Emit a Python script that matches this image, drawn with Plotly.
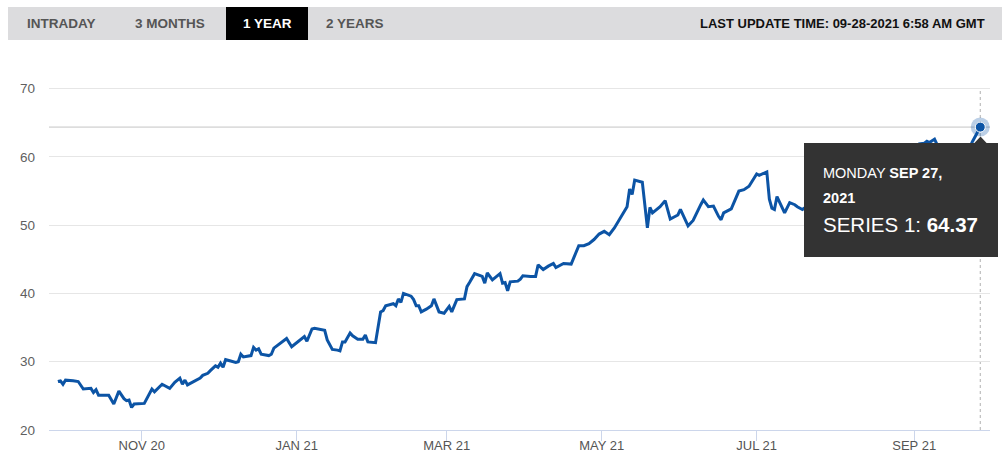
import plotly.graph_objects as go

# ---------------- data ----------------
dates = [
    "2020-09-29", "2020-09-30", "2020-10-01", "2020-10-02", "2020-10-05", "2020-10-06", "2020-10-07",
    "2020-10-09", "2020-10-10", "2020-10-12", "2020-10-13", "2020-10-14", "2020-10-15", "2020-10-17",
    "2020-10-19", "2020-10-21", "2020-10-23", "2020-10-25", "2020-10-26", "2020-10-27", "2020-10-28",
    "2020-10-29", "2020-10-31", "2020-11-02", "2020-11-05", "2020-11-06", "2020-11-09", "2020-11-12",
    "2020-11-14", "2020-11-16", "2020-11-17", "2020-11-18", "2020-11-19", "2020-11-22", "2020-11-24",
    "2020-11-25", "2020-11-27", "2020-11-28", "2020-11-29", "2020-11-30", "2020-12-01", "2020-12-02",
    "2020-12-03", "2020-12-04", "2020-12-06", "2020-12-08", "2020-12-09", "2020-12-10", "2020-12-11",
    "2020-12-14", "2020-12-15", "2020-12-16", "2020-12-17", "2020-12-18", "2020-12-21", "2020-12-22",
    "2020-12-23", "2020-12-25", "2020-12-28", "2020-12-30", "2021-01-01", "2021-01-04", "2021-01-05",
    "2021-01-07", "2021-01-08", "2021-01-10", "2021-01-12", "2021-01-13", "2021-01-15", "2021-01-17",
    "2021-01-18", "2021-01-19", "2021-01-20", "2021-01-22", "2021-01-23", "2021-01-25", "2021-01-27",
    "2021-01-28", "2021-01-29", "2021-02-01", "2021-02-03", "2021-02-04", "2021-02-05", "2021-02-08",
    "2021-02-09", "2021-02-10", "2021-02-11", "2021-02-12", "2021-02-15", "2021-02-16", "2021-02-17",
    "2021-02-18", "2021-02-19", "2021-02-21", "2021-02-23", "2021-02-24", "2021-02-26", "2021-02-28",
    "2021-03-02", "2021-03-03", "2021-03-05", "2021-03-08", "2021-03-09", "2021-03-10", "2021-03-12",
    "2021-03-15", "2021-03-16", "2021-03-17", "2021-03-19", "2021-03-22", "2021-03-23", "2021-03-24",
    "2021-03-25", "2021-03-26", "2021-03-29", "2021-03-30", "2021-03-31", "2021-04-03", "2021-04-05",
    "2021-04-06", "2021-04-08", "2021-04-10", "2021-04-12", "2021-04-13", "2021-04-16", "2021-04-19",
    "2021-04-20", "2021-04-22", "2021-04-24", "2021-04-26", "2021-04-28", "2021-04-30", "2021-05-02",
    "2021-05-04", "2021-05-06", "2021-05-08", "2021-05-11", "2021-05-12", "2021-05-13", "2021-05-14",
    "2021-05-17", "2021-05-19", "2021-05-20", "2021-05-21", "2021-05-24", "2021-05-26", "2021-05-28",
    "2021-05-31", "2021-06-01", "2021-06-04", "2021-06-06", "2021-06-09", "2021-06-10", "2021-06-12",
    "2021-06-14", "2021-06-16", "2021-06-17", "2021-06-18", "2021-06-21", "2021-06-24", "2021-06-26",
    "2021-06-28", "2021-07-01", "2021-07-02", "2021-07-05", "2021-07-06", "2021-07-07", "2021-07-08",
    "2021-07-09", "2021-07-12", "2021-07-14", "2021-07-16", "2021-07-17", "2021-07-19", "2021-07-21",
    "2021-07-23", "2021-07-25", "2021-07-27", "2021-07-29", "2021-08-01", "2021-08-03", "2021-08-05",
    "2021-08-08", "2021-08-10", "2021-08-12", "2021-08-15", "2021-08-17", "2021-08-19", "2021-08-22",
    "2021-08-24", "2021-08-26", "2021-08-29", "2021-08-31", "2021-09-02", "2021-09-03", "2021-09-05",
    "2021-09-06", "2021-09-07", "2021-09-09", "2021-09-10", "2021-09-11", "2021-09-12", "2021-09-14",
    "2021-09-16", "2021-09-18", "2021-09-19", "2021-09-21", "2021-09-23", "2021-09-24", "2021-09-27",
]
values = [
    27.1, 27.2, 26.7, 27.3, 27.2, 27.1, 27.1,
    26.0, 26.0, 26.1, 25.5, 25.9, 25.1, 25.1,
    25.1, 23.8, 25.7, 24.6, 24.3, 24.4, 23.3,
    23.8, 23.9, 23.9, 26.0, 25.6, 26.7, 26.1,
    27.0, 27.6, 26.7, 27.3, 26.6, 27.2, 27.6,
    28.0, 28.3, 28.7, 29.0, 29.4, 29.2, 29.8,
    29.2, 30.3, 30.1, 29.9, 30.0, 31.1, 30.7,
    30.9, 32.1, 31.7, 31.9, 31.1, 30.9, 31.1,
    32.0, 32.6, 33.4, 32.2, 32.8, 33.7, 33.0,
    34.8, 34.9, 34.7, 34.6, 33.2, 31.8, 31.7,
    31.6, 32.9, 32.9, 34.2, 33.8, 33.3, 33.3,
    33.9, 32.9, 32.8, 37.3, 37.5, 38.2, 38.5,
    38.2, 39.2, 38.7, 40.0, 39.6, 39.1, 38.2,
    38.2, 37.3, 37.7, 38.2, 39.2, 37.3, 37.1,
    38.1, 37.3, 39.1, 39.2, 41.0, 41.6, 42.9,
    42.5, 41.5, 43.0, 42.0, 42.9, 41.5, 41.6,
    40.4, 41.7, 41.8, 42.1, 42.6, 42.5, 42.5,
    44.2, 43.5, 44.0, 44.4, 43.8, 44.4, 44.3,
    45.2, 47.0, 47.0, 47.3, 47.9, 48.7, 49.1,
    48.6, 49.6, 50.8, 52.7, 55.3, 54.5, 56.6,
    56.3, 49.6, 52.6, 51.8, 52.7, 53.6, 50.9,
    51.5, 52.3, 49.9, 50.7, 53.0, 53.7, 52.7,
    52.8, 51.3, 50.8, 51.8, 52.4, 55.0, 55.2,
    55.7, 57.5, 57.3, 57.8, 53.8, 52.5, 52.3,
    54.2, 51.8, 53.3, 53.0, 52.7, 52.3, 52.8,
    53.5, 54.6, 54.0, 55.8, 56.5, 57.9, 57.2,
    58.8, 59.5, 58.7, 60.1, 60.8, 60.2, 61.0,
    60.5, 61.3, 60.9, 61.5, 61.3, 61.9, 62.0,
    62.3, 62.1, 62.6, 61.8, 60.5, 59.8, 60.4,
    59.2, 58.6, 59.5, 60.8, 61.5, 62.3, 64.37,
]
x_tick_vals = ["2020-11-01", "2021-01-01", "2021-03-01", "2021-05-01", "2021-07-01", "2021-09-01"]
x_tick_text = ["NOV 20", "JAN 21", "MAR 21", "MAY 21", "JUL 21", "SEP 21"]
y_tick_vals = [20, 30, 40, 50, 60, 70]
tabs = ["INTRADAY", "3 MONTHS", "1 YEAR", "2 YEARS"]
selected_tab = "1 YEAR"
update_text = "LAST UPDATE TIME: 09-28-2021 6:58 AM GMT"
tooltip_day = "MONDAY"
tooltip_date = "SEP 27,"
tooltip_year = "2021"
series_name = "SERIES 1"

# ---------------- layout geometry ----------------
W, H = 1002, 459
ML, MR, MT, MB = 49, 12, 75, 29
PW, PH = W - ML - MR, H - MT - MB


def px(xp):
    return (xp - ML) / PW


def py(yp):
    return (H - MB - yp) / PH


LINE = "#0c54a5"
FONT = "Liberation Sans, Arial, Helvetica, sans-serif"

fig = go.Figure()
fig.add_trace(go.Scatter(x=dates, y=values, mode="lines",
                         line=dict(color=LINE, width=3), hoverinfo="skip"))
# highlighted last point
fig.add_trace(go.Scatter(x=[dates[-1]], y=[values[-1]], mode="markers",
                         marker=dict(size=19, color="rgba(12,84,165,0.28)"), hoverinfo="skip"))
fig.add_trace(go.Scatter(x=[dates[-1]], y=[values[-1]], mode="markers",
                         marker=dict(size=10, color=LINE, line=dict(color="white", width=1)),
                         hoverinfo="skip"))

shapes = []
# crosshairs
shapes.append(dict(type="line", xref="paper", yref="y", x0=0, x1=1, y0=values[-1], y1=values[-1],
                   line=dict(color="#c4c4c4", width=1), layer="below"))
shapes.append(dict(type="line", xref="x", yref="y", x0=dates[-1], x1=dates[-1], y0=20, y1=70,
                   line=dict(color="#b0b0b0", width=1, dash="dot"), layer="below"))
# top bar
shapes.append(dict(type="rect", xref="paper", yref="paper", x0=px(8), x1=px(1002), y0=py(40), y1=py(7),
                   fillcolor="#dcdcde", line=dict(width=0), layer="above"))
tab_centers = [61, 170, 267, 355]
for t, c in zip(tabs, tab_centers):
    if t == selected_tab:
        shapes.append(dict(type="rect", xref="paper", yref="paper", x0=px(226), x1=px(308),
                           y0=py(40), y1=py(7), fillcolor="#000000", line=dict(width=0), layer="above"))
# tooltip box + pointer
shapes.append(dict(type="rect", xref="paper", yref="paper", x0=px(804), x1=px(998), y0=py(257), y1=py(143),
                   fillcolor="#333333", line=dict(width=0), layer="above"))
shapes.append(dict(type="path", xref="paper", yref="paper",
                   path=f"M {px(974)},{py(143.5)} L {px(980.5)},{py(136.5)} L {px(987)},{py(143.5)} Z",
                   fillcolor="#333333", line=dict(width=0), layer="above"))

annotations = []
for t, c in zip(tabs, tab_centers):
    annotations.append(dict(xref="paper", yref="paper", x=px(c), y=py(23.5), text=f"<b>{t}</b>",
                            showarrow=False, xanchor="center", yanchor="middle",
                            font=dict(family=FONT, size=13.5,
                                      color="#ffffff" if t == selected_tab else "#555555")))
annotations.append(dict(xref="paper", yref="paper", x=px(987), y=py(23.5), text=f"<b>{update_text}</b>",
                        showarrow=False, xanchor="right", yanchor="middle",
                        font=dict(family=FONT, size=13, color="#111111")))
annotations.append(dict(xref="paper", yref="paper", x=px(821), y=py(173), showarrow=False,
                        text=f"{tooltip_day} <b>{tooltip_date}</b>", xanchor="left", yanchor="middle",
                        font=dict(family=FONT, size=14.5, color="#ffffff")))
annotations.append(dict(xref="paper", yref="paper", x=px(821), y=py(197.5), showarrow=False,
                        text=f"<b>{tooltip_year}</b>", xanchor="left", yanchor="middle",
                        font=dict(family=FONT, size=14.5, color="#ffffff")))
annotations.append(dict(xref="paper", yref="paper", x=px(821), y=py(224), showarrow=False,
                        text=f"{series_name}: <b>{values[-1]:.2f}</b>", xanchor="left", yanchor="middle",
                        font=dict(family=FONT, size=20.5, color="#ffffff")))

fig.update_layout(
    width=W, height=H,
    margin=dict(l=ML, r=MR, t=MT, b=MB, autoexpand=False),
    plot_bgcolor="white", paper_bgcolor="white",
    showlegend=False, hovermode=False,
    font=dict(family=FONT),
    shapes=shapes, annotations=annotations,
    xaxis=dict(type="date", range=["2020-09-25 12:00", "2021-09-30 20:00"], automargin=False,
               showgrid=False, zeroline=False, showline=True, linecolor="#ccd6eb", linewidth=1,
               ticks="outside", ticklen=10, tickcolor="#ccd6eb", tickwidth=1,
               tickvals=x_tick_vals, ticktext=x_tick_text, ticklabelstandoff=-7,
               tickfont=dict(family=FONT, size=13, color="#555555")),
    yaxis=dict(range=[20, 72], tickvals=y_tick_vals, showgrid=True, gridcolor="#e6e6e6", gridwidth=1,
               automargin=False, zeroline=False, showline=False, ticks="",
               tickfont=dict(family=FONT, size=13.5, color="#5f5f5f"), ticklabelstandoff=13),
)

fig.write_html("out.html")
